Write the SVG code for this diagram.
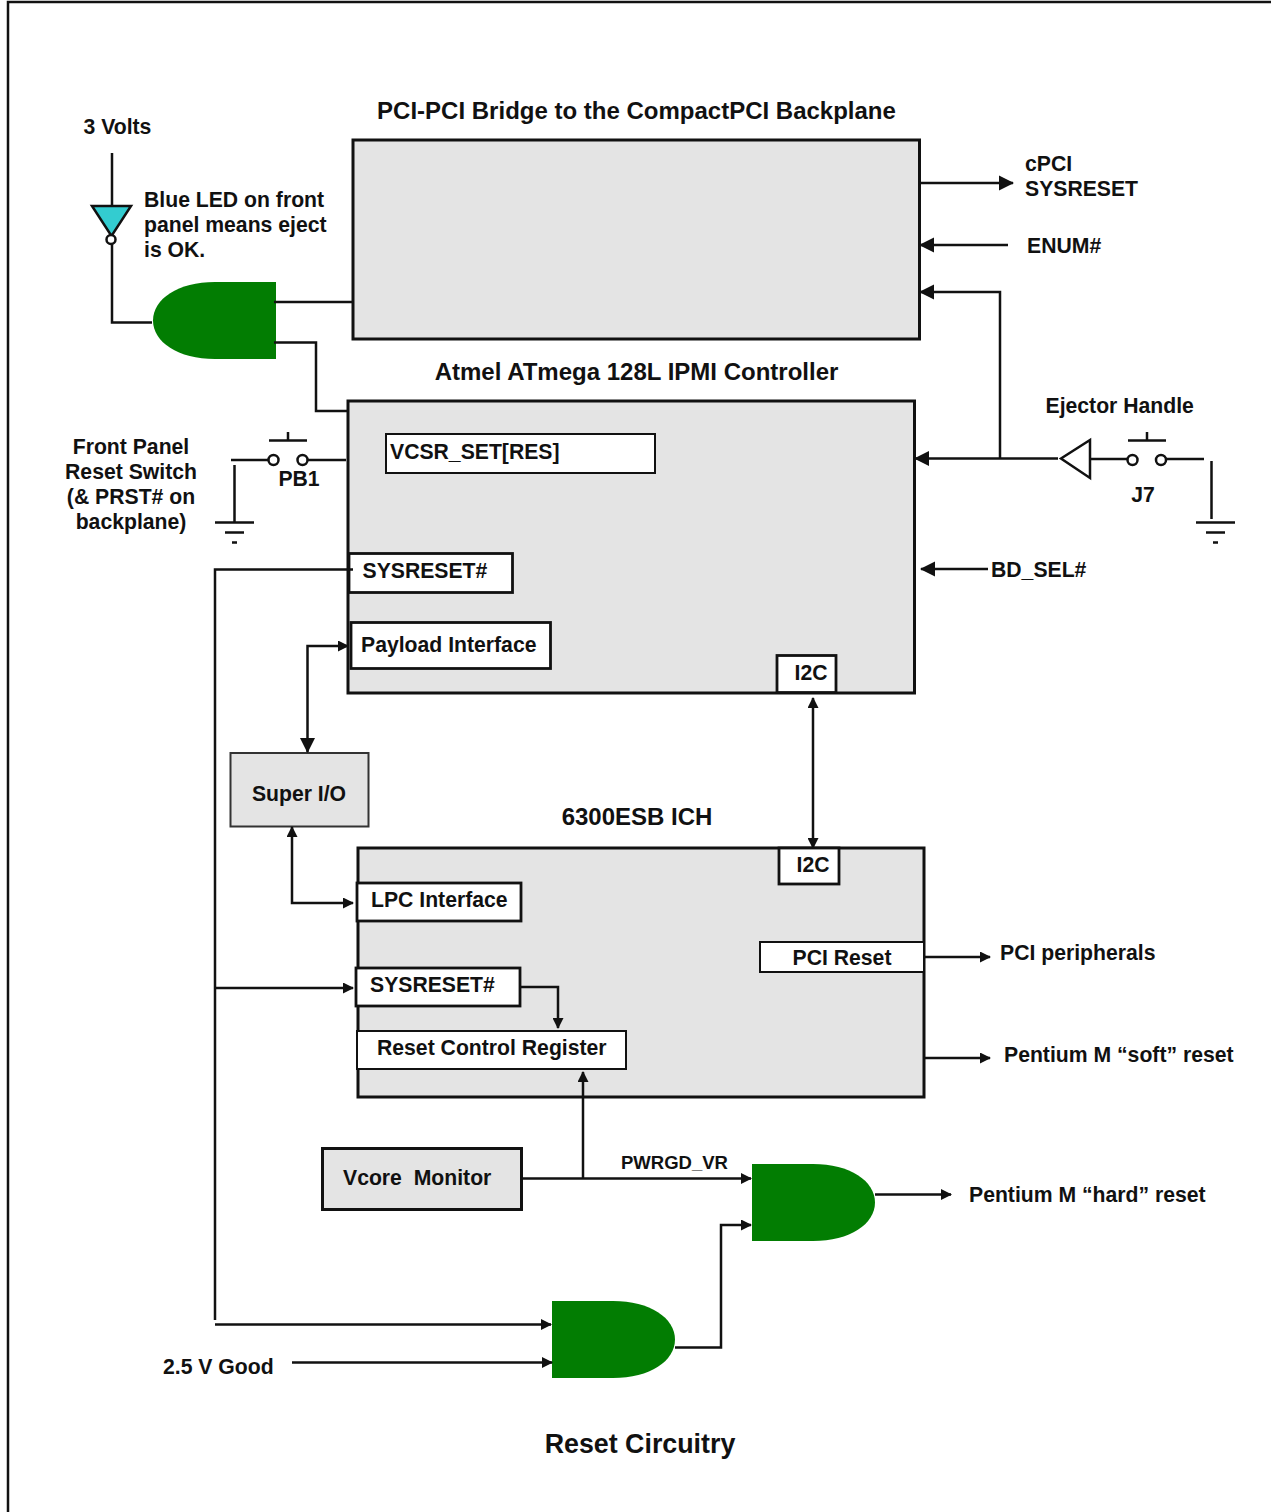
<svg xmlns="http://www.w3.org/2000/svg" width="1271" height="1512" viewBox="0 0 1271 1512">
<style>
text{font-family:"Liberation Sans",Arial,sans-serif;font-weight:700;fill:#111;font-size:21.2px}
.m{text-anchor:middle}
.t{font-size:24px}
.b{fill:#e4e4e4;stroke:#111;stroke-width:3}
.w{fill:#fff;stroke:#111;stroke-width:2.8}
.n{fill:#fff;stroke:#111;stroke-width:2}
.g{fill:#027d02;stroke:none}
.l{fill:none;stroke:#111;stroke-width:2.5}
</style>
<defs>
<marker id="a" markerUnits="userSpaceOnUse" markerWidth="15" markerHeight="16" refX="14" refY="8" orient="auto-start-reverse"><path d="M0 0.500L15 8L0 15.500Z" fill="#111"/></marker>
<marker id="s" markerUnits="userSpaceOnUse" markerWidth="11" markerHeight="11" refX="10" refY="5.500" orient="auto-start-reverse"><path d="M0 0L11 5.500L0 11Z" fill="#111"/></marker>
</defs>
<path id="page-border" class="l" d="M8 1512V2H1271"/>
<g id="bridge"><rect class="b" x="353" y="140" width="566.500" height="199"/><text class="m t" x="636.500" y="118.500">PCI-PCI Bridge to the CompactPCI Backplane</text></g>
<g id="ipmi"><rect class="b" x="348" y="401" width="566.500" height="292"/><text class="m t" x="636.500" y="379.500">Atmel ATmega 128L IPMI Controller</text></g>
<g id="vcsr"><rect class="n" x="386" y="434" width="269" height="39"/><text x="390" y="459">VCSR_SET[RES]</text></g>
<g id="sysreset1"><rect class="w" x="349" y="553.500" width="163.500" height="39"/><text x="362.500" y="578">SYSRESET#</text></g>
<g id="payload"><rect class="w" x="351" y="622.500" width="199.500" height="46"/><text x="361" y="652">Payload Interface</text></g>
<g id="i2c1"><rect class="w" x="777" y="655.500" width="59" height="37"/><text class="m" x="811" y="680">I2C</text></g>
<g id="superio"><rect x="230.500" y="753" width="138" height="73.500" fill="#e4e4e4" stroke="#333" stroke-width="2"/><text class="m" x="299" y="801">Super I/O</text></g>
<g id="ich"><rect class="b" x="358" y="848" width="566" height="249"/><text class="m t" x="637" y="825">6300ESB ICH</text></g>
<g id="i2c2"><rect class="w" x="779" y="848" width="60" height="36"/><text class="m" x="813" y="872">I2C</text></g>
<g id="lpc"><rect class="w" x="357" y="883" width="164" height="38"/><text x="371" y="907">LPC Interface</text></g>
<g id="pcireset"><rect class="n" x="760" y="942" width="164" height="30"/><text class="m" x="842" y="965">PCI Reset</text></g>
<g id="sysreset2"><rect class="w" x="356" y="968" width="164" height="38"/><text x="370" y="992">SYSRESET#</text></g>
<g id="rcr"><rect class="n" x="357" y="1031" width="269" height="38"/><text x="377" y="1055">Reset Control Register</text></g>
<g id="vcore"><rect class="b" x="322.500" y="1148.500" width="199" height="61"/><text x="343" y="1185" xml:space="preserve">Vcore  Monitor</text></g>
<g id="gate1"><path class="g" d="M276 282V359H215C178 359 153 342 153 320.500C153 299 178 282 215 282Z"/></g>
<g id="gate2"><path class="g" d="M752 1164V1241H813C850 1241 875 1224 875 1202.500C875 1181 850 1164 813 1164Z"/></g>
<g id="gate3"><path class="g" d="M552 1301V1378H613C650 1378 675 1361 675 1339.500C675 1318 650 1301 613 1301Z"/></g>
<g id="led"><path d="M92 206H131L111.500 236Z" fill="#33ccd0" stroke="#111" stroke-width="2.500"/><circle cx="111" cy="239.500" r="4.500" fill="#fff" stroke="#111" stroke-width="2.500"/></g>
<g id="pb1"><circle cx="273.500" cy="460" r="5" fill="#fff" stroke="#111" stroke-width="2.500"/><circle cx="302.500" cy="460" r="5" fill="#fff" stroke="#111" stroke-width="2.500"/><path class="l" d="M269 440.500H307M288 432V440.500"/><text class="m" x="299" y="486">PB1</text></g>
<g id="j7"><circle cx="1132.500" cy="460" r="5" fill="#fff" stroke="#111" stroke-width="2.500"/><circle cx="1161" cy="460" r="5" fill="#fff" stroke="#111" stroke-width="2.500"/><path class="l" d="M1128 440.500H1166M1147 432V440.500"/><text class="m" x="1143" y="502">J7</text></g>
<g id="ejector-buffer"><path d="M1090 440V478L1061 458.500Z" fill="#fff" stroke="#111" stroke-width="2.500"/></g>
<g id="ground1"><path class="l" d="M234.500 465V522.500M215 522.500H254M225 532.500H244M232 542.500H237"/></g>
<g id="ground2"><path class="l" d="M1211.500 461V519M1196 522.500H1235M1206 532.500H1225M1213 542.500H1218"/></g>
<g id="connectors">
<path class="l" d="M112 153V206M112 244V322.500H152"/>
<path class="l" d="M274 302H353"/>
<path class="l" d="M274 342.500H316V411H348"/>
<path class="l" d="M231 460H268M308 460H346"/>
<path class="l" d="M919 183H1013" marker-end="url(#a)"/>
<path class="l" d="M1008 245H920" marker-end="url(#a)"/>
<path class="l" d="M1000 458V292H920" marker-end="url(#a)"/>
<path class="l" d="M1058 458.500H915" marker-end="url(#a)"/>
<path class="l" d="M1090 459H1127M1166 459H1204"/>
<path class="l" d="M988 569H921" marker-end="url(#a)"/>
<path class="l" d="M353 569.500H215V1320"/>
<path class="l" d="M348 646H307.500V752" marker-start="url(#s)" marker-end="url(#a)"/>
<path class="l" d="M813 698V848" marker-start="url(#s)" marker-end="url(#s)"/>
<path class="l" d="M292 827V903H353" marker-start="url(#s)" marker-end="url(#s)"/>
<path class="l" d="M215 988H353" marker-end="url(#s)"/>
<path class="l" d="M520 987H558V1028" marker-end="url(#s)"/>
<path class="l" d="M924 957H990" marker-end="url(#s)"/>
<path class="l" d="M925 1058H990" marker-end="url(#s)"/>
<path class="l" d="M583 1178V1072" marker-end="url(#s)"/>
<path class="l" d="M522 1178.500H751" marker-end="url(#s)"/>
<path class="l" d="M875 1194.500H951" marker-end="url(#s)"/>
<path class="l" d="M675 1347.500H721V1225H751" marker-end="url(#s)"/>
<path class="l" d="M215 1324.500H551" marker-end="url(#s)"/>
<path class="l" d="M292 1362.500H552" marker-end="url(#s)"/>
</g>
<g id="labels">
<text x="83.500" y="134">3 Volts</text>
<text x="144" y="207">Blue LED on front</text>
<text x="144" y="232">panel means eject</text>
<text x="144" y="257">is OK.</text>
<text x="1025" y="171">cPCI</text>
<text x="1025" y="196">SYSRESET</text>
<text x="1027" y="253">ENUM#</text>
<text x="1045.500" y="413">Ejector Handle</text>
<text class="m" x="131" y="454">Front Panel</text>
<text class="m" x="131" y="479">Reset Switch</text>
<text class="m" x="131" y="504">(&amp; PRST# on</text>
<text class="m" x="131" y="529">backplane)</text>
<text x="991" y="577">BD_SEL#</text>
<text x="1000" y="960">PCI peripherals</text>
<text x="1004" y="1062">Pentium M “soft” reset</text>
<text x="621" y="1169" style="font-size:18.500px">PWRGD_VR</text>
<text x="969" y="1202">Pentium M “hard” reset</text>
<text x="163" y="1374">2.5 V Good</text>
<text class="m" x="640" y="1453" style="font-size:26.800px">Reset Circuitry</text>
</g>
</svg>
